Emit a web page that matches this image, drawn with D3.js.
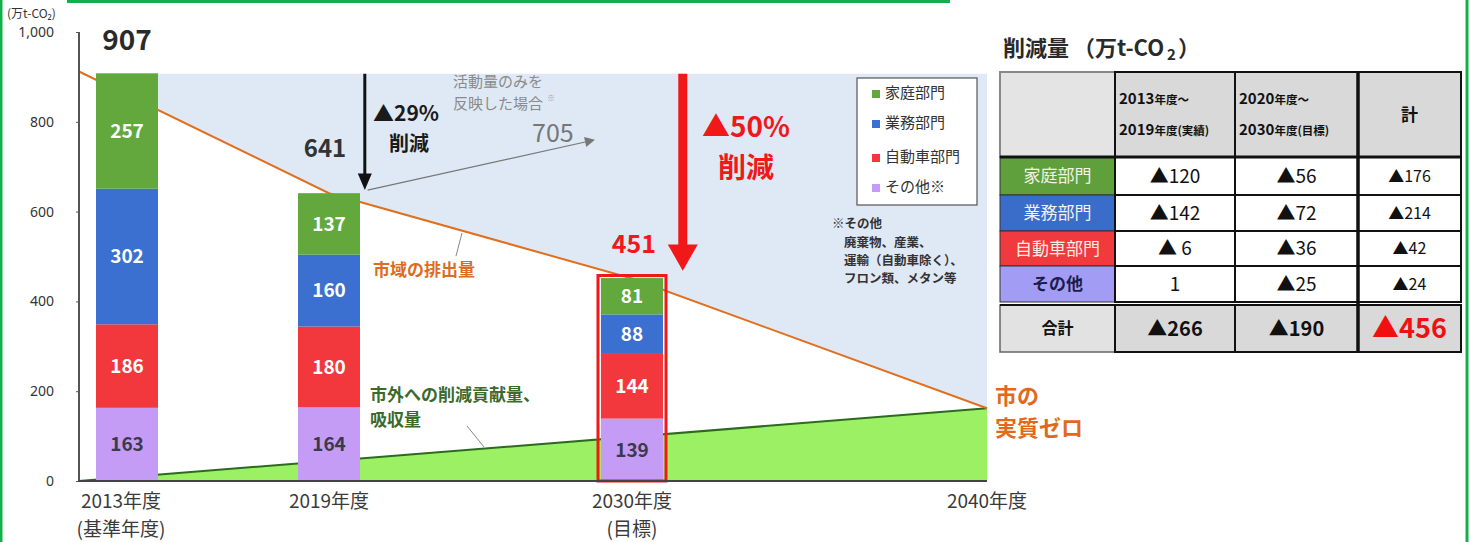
<!DOCTYPE html>
<html>
<head>
<meta charset="utf-8">
<style>
  body { margin: 0; background: #fff; }
  svg text { font-family: "Noto Sans CJK JP", "Noto Sans", sans-serif; }
</style>
<script src="https://d3js.org/d3.v7.min.js"></script>
</head>
<body>
<div id="chart"></div>
<script>
// --- data ---
var years = [2013, 2019, 2030];
var sectors = ["その他※", "自動車部門", "業務部門", "家庭部門"];   // bottom -> top
var katei   = [257, 137, 81];
var gyomu   = [302, 160, 88];
var jidosha = [186, 180, 144];
var sonota  = [163, 164, 139];
var totals  = [907, 641, 451];
var yTicks  = [0, 200, 400, 600, 800, 1000];
var xLabels = [["2013年度", "(基準年度)"], ["2019年度", ""], ["2030年度", "(目標)"], ["2040年度", ""]];
var xLabelYears = [2013, 2019, 2030, 2040];
// emission trend (市域の排出量) and offset line (市外への削減貢献量)
var emitYears = [2011.55, 2019, 2030, 2040];
var emitVals  = [912, 641, 451, 162];
var offsetYears = [2011.55, 2040];
var offsetVals  = [0, 162];
// table
var tblRows   = ["家庭部門", "業務部門", "自動車部門", "その他"];
var tblA      = ["▲120", "▲142", "▲ 6", "1"];
var tblB      = ["▲56", "▲72", "▲36", "▲25"];
var tblSum    = ["▲176", "▲214", "▲42", "▲24"];
var tblTotals = ["▲266", "▲190", "▲456"];

var colors = {"家庭部門": "#62a83d", "業務部門": "#3b6fd0", "自動車部門": "#f2383c", "その他※": "#c49cf5"};
var rowFill = ["#5f9f3c", "#3a6cc9", "#f03a3e", "#a29cf5"];
var rowText = ["#f3f3e6", "#f3f3f3", "#f7f0e6", "#1c1c4a"];

var W = 1470, H = 542;
var svg = d3.select("#chart").append("svg").attr("width", W).attr("height", H);

// scales (x is piecewise like the original slide)
var x = d3.scaleLinear().domain([2011.55, 2013, 2019, 2030, 2040]).range([79, 127, 329, 632, 987]);
var y = d3.scaleLinear().domain([0, 1000]).range([481, 32]);
var barW = 62;

// frame lines
svg.append("line").attr("x1", 1).attr("x2", 1).attr("y1", 0).attr("y2", H).attr("stroke", "#12b04c").attr("stroke-width", 3);
svg.append("line").attr("x1", 67).attr("x2", 950).attr("y1", 1.5).attr("y2", 1.5).attr("stroke", "#12b04c").attr("stroke-width", 3);
svg.append("line").attr("x1", 1467).attr("x2", 1467).attr("y1", 0).attr("y2", H).attr("stroke", "#12b04c").attr("stroke-width", 3);

// light blue area above emission line (starts at the 2013 bar)
var emitPts = emitYears.map(function(d, i) { return [x(d), y(emitVals[i])]; });
var bx0 = x(2013) - barW / 2;
var t0 = (bx0 - emitPts[0][0]) / (emitPts[1][0] - emitPts[0][0]);
var by0 = emitPts[0][1] + t0 * (emitPts[1][1] - emitPts[0][1]);
var bluePts = [[bx0, y(907)], [x(2040), y(907)]].concat(emitPts.slice(1).reverse()).concat([[bx0, by0]]);
svg.append("path").attr("d", d3.line()(bluePts) + "Z").attr("fill", "#dfe9f6");

// green offset area
var offPts = offsetYears.map(function(d, i) { return [x(d), y(offsetVals[i])]; });
svg.append("path").attr("d", d3.line()(offPts.concat([[x(2040), y(0)]])) + "Z").attr("fill", "#9cf064");
svg.append("path").attr("d", d3.line()(offPts)).attr("fill", "none").attr("stroke", "#2d6a1e").attr("stroke-width", 2);

// emission line
svg.append("path").attr("d", d3.line()(emitPts)).attr("fill", "none").attr("stroke", "#e0701f").attr("stroke-width", 2);

// stacked bars
var rows = years.map(function(yr, i) {
  return {year: yr, "家庭部門": katei[i], "業務部門": gyomu[i], "自動車部門": jidosha[i], "その他※": sonota[i]};
});
var stack = d3.stack().keys(sectors)(rows);
var layer = svg.selectAll("g.layer").data(stack).enter().append("g").attr("class", "layer");
layer.selectAll("rect").data(function(d) { return d.map(function(p) { p.key = d.key; return p; }); })
  .enter().append("rect")
  .attr("x", function(d) { return x(d.data.year) - barW / 2; })
  .attr("width", barW)
  .attr("y", function(d) { return y(d[1]); })
  .attr("height", function(d) { return y(d[0]) - y(d[1]); })
  .attr("fill", function(d) { return colors[d.key]; });
layer.selectAll("text").data(function(d) { return d; })
  .enter().append("text")
  .attr("x", function(d) { return x(d.data.year); })
  .attr("y", function(d) { return y((d[0] + d[1]) / 2); })
  .attr("dy", "0.36em").attr("text-anchor", "middle")
  .attr("font-size", 19).attr("font-weight", "bold")
  .attr("fill", function(d) { return d.key === "その他※" ? "#3a3a4a" : "#ffffff"; })
  .text(function(d) { return d[1] - d[0]; });

// red outline on 2030 bar
svg.append("rect").attr("x", x(2030) - barW / 2 - 3).attr("y", y(totals[2]) - 3)
  .attr("width", barW + 6).attr("height", y(0) - y(totals[2]) + 3)
  .attr("fill", "none").attr("stroke", "#f01818").attr("stroke-width", 3);

// axes
var yAxis = svg.append("g").attr("transform", "translate(79,0)")
  .call(d3.axisLeft(y).tickValues(yTicks).tickSize(3).tickFormat(d3.format(",")));
yAxis.select(".domain").attr("stroke", "#555").attr("stroke-width", 2).attr("d", "M0," + y(1000) + "V" + y(0));
yAxis.selectAll(".tick line").attr("stroke", "#555");
yAxis.selectAll(".tick text").attr("x", -25).attr("font-size", 14).attr("fill", "#333")
  .style("font-family", "Noto Sans, sans-serif");
svg.append("line").attr("x1", 78).attr("x2", 987).attr("y1", y(0)).attr("y2", y(0)).attr("stroke", "#444").attr("stroke-width", 2);
svg.append("text").attr("x", 7).attr("y", 18).attr("font-size", 12).attr("fill", "#333").text("(万t-CO₂)");

xLabels.forEach(function(l, i) {
  var cx = x(xLabelYears[i]) - (i === 0 ? 6 : 0);
  svg.append("text").attr("x", cx).attr("y", 508).attr("text-anchor", "middle")
    .attr("font-size", 19).attr("fill", "#3a3a3a").text(l[0]);
  if (l[1]) svg.append("text").attr("x", cx).attr("y", 536).attr("text-anchor", "middle")
    .attr("font-size", 19).attr("fill", "#3a3a3a").text(l[1]);
});

// totals above bars
svg.append("text").attr("x", x(2013)).attr("y", 50).attr("text-anchor", "middle").attr("font-size", 28).attr("font-weight", "bold").attr("fill", "#2a2a2a").text(totals[0]);
svg.append("text").attr("x", x(2019) - 4).attr("y", 157).attr("text-anchor", "middle").attr("font-size", 24).attr("font-weight", "bold").attr("fill", "#333").text(totals[1]);
svg.append("text").attr("x", x(2030) + 2).attr("y", 253).attr("text-anchor", "middle").attr("font-size", 25).attr("font-weight", "bold").attr("fill", "#f01818").text(totals[2]);

// black arrow ▲29%
var bx = x(2020.3);
svg.append("line").attr("x1", bx).attr("x2", bx).attr("y1", y(907)).attr("y2", y(675)).attr("stroke", "#111").attr("stroke-width", 3);
svg.append("path").attr("d", d3.line()([[bx - 7, y(685)], [bx + 7, y(685)], [bx, y(648)]]) + "Z").attr("fill", "#111");
svg.append("text").attr("x", 373).attr("y", 121).attr("font-size", 21).attr("font-weight", "bold").attr("fill", "#1a1a1a").text("▲29%");
svg.append("text").attr("x", 389).attr("y", 151).attr("font-size", 20).attr("font-weight", "bold").attr("fill", "#1a1a1a").text("削減");

// gray arrow (活動量のみ)
var g1 = [x(2020.4), y(648)], g2 = [x(2028.3), y(755)];
svg.append("line").attr("x1", g1[0]).attr("y1", g1[1]).attr("x2", g2[0]).attr("y2", g2[1]).attr("stroke", "#777").attr("stroke-width", 1.2);
var ang = Math.atan2(g2[1] - g1[1], g2[0] - g1[0]);
var tip = [g2[0] + 10 * Math.cos(ang), g2[1] + 10 * Math.sin(ang)];
svg.append("path").attr("d", d3.line()([tip,
  [g2[0] - 5 * Math.sin(ang), g2[1] + 5 * Math.cos(ang)],
  [g2[0] + 5 * Math.sin(ang), g2[1] - 5 * Math.cos(ang)]]) + "Z").attr("fill", "#777");
svg.append("text").attr("x", 453).attr("y", 87).attr("font-size", 15).attr("fill", "#8a8a8a").text("活動量のみを");
svg.append("text").attr("x", 453).attr("y", 109).attr("font-size", 15).attr("fill", "#8a8a8a").text("反映した場合");
svg.append("text").attr("x", 547).attr("y", 101).attr("font-size", 8).attr("fill", "#999").text("※");
svg.append("text").attr("x", 532).attr("y", 142).attr("font-size", 25).attr("fill", "#777").text("705");

// red arrow ▲50%
var rx = x(2031.43);
svg.append("line").attr("x1", rx).attr("x2", rx).attr("y1", y(907)).attr("y2", y(520)).attr("stroke", "#f01818").attr("stroke-width", 9);
svg.append("path").attr("d", d3.line()([[rx - 15, y(527)], [rx + 15, y(527)], [rx, y(468)]]) + "Z").attr("fill", "#f01818");
svg.append("text").attr("x", 746).attr("y", 137).attr("text-anchor", "middle").attr("font-size", 28).attr("font-weight", "bold").attr("fill", "#f01818").text("▲50%");
svg.append("text").attr("x", 746).attr("y", 178).attr("text-anchor", "middle").attr("font-size", 28).attr("font-weight", "bold").attr("fill", "#f01818").text("削減");

// labels on the lines
svg.append("line").attr("x1", 462).attr("y1", 233).attr("x2", 456).attr("y2", 256).attr("stroke", "#888").attr("stroke-width", 1);
svg.append("text").attr("x", 373).attr("y", 276).attr("font-size", 17).attr("font-weight", "bold").attr("fill", "#dc6c22").text("市域の排出量");
svg.append("line").attr("x1", 467).attr("y1", 426).attr("x2", 484).attr("y2", 447).attr("stroke", "#888").attr("stroke-width", 1);
svg.append("text").attr("x", 370).attr("y", 401).attr("font-size", 17).attr("font-weight", "bold").attr("fill", "#3b6a2c").text("市外への削減貢献量、");
svg.append("text").attr("x", 370).attr("y", 426).attr("font-size", 17).attr("font-weight", "bold").attr("fill", "#3b6a2c").text("吸収量");
svg.append("text").attr("x", 995).attr("y", 404).attr("font-size", 22).attr("font-weight", "bold").attr("fill", "#e2691a").text("市の");
svg.append("text").attr("x", 995).attr("y", 436).attr("font-size", 22).attr("font-weight", "bold").attr("fill", "#e2691a").text("実質ゼロ");

// legend
var leg = svg.append("g");
leg.append("rect").attr("x", 857).attr("y", 78).attr("width", 120).attr("height", 127).attr("fill", "#fff").attr("stroke", "#555").attr("stroke-width", 1.2);
var legOrder = ["家庭部門", "業務部門", "自動車部門", "その他※"];
var legY = [93, 123, 157, 187];
legOrder.forEach(function(k, i) {
  leg.append("rect").attr("x", 872).attr("y", legY[i] - 3).attr("width", 8).attr("height", 8).attr("fill", colors[k]);
  leg.append("text").attr("x", 885).attr("y", legY[i]).attr("dy", "0.36em").attr("font-size", 15).attr("fill", "#333").text(k);
});

// footnote
var notes = ["※その他", "廃棄物、産業、", "運輸（自動車除く）、", "フロン類、メタン等"];
notes.forEach(function(t, i) {
  svg.append("text").attr("x", i === 0 ? 832 : 844).attr("y", [228, 247, 265, 283][i]).attr("font-size", 12.5)
    .attr("font-weight", "bold").attr("fill", "#333").text(t);
});

// ---- table ----
var tx = [1000, 1115, 1235, 1358, 1461];
var ty = [72, 157, 195, 231, 266, 302, 305, 352];
var tt = svg.append("g");
var title = tt.append("text").attr("x", 1003).attr("y", 56).attr("font-size", 22).attr("font-weight", "bold").attr("fill", "#2a2a2a");
title.append("tspan").text("削減量");
title.append("tspan").attr("dx", 4).text("（万t-CO");
title.append("tspan").attr("font-size", 15).attr("dx", 3).attr("dy", 4).text("2");
title.append("tspan").attr("dy", -4).attr("dx", 2).text("）");

// header
for (var c = 0; c < 4; c++) {
  tt.append("rect").attr("x", tx[c]).attr("y", ty[0]).attr("width", tx[c + 1] - tx[c]).attr("height", ty[1] - ty[0])
    .attr("fill", c === 0 ? "#e4e4e4" : "#d9d9d9").attr("stroke", c === 0 ? "#888" : "#111").attr("stroke-width", 2);
}
var hdr = [["2013", "年度～"], ["2019", "年度(実績)"], ["2020", "年度～"], ["2030", "年度(目標)"]];
[0, 1].forEach(function(c) {
  [0, 1].forEach(function(r) {
    var h = hdr[c * 2 + r];
    var t = tt.append("text").attr("x", tx[c + 1] + 4).attr("y", 104 + r * 31).attr("font-weight", "bold").attr("fill", "#111");
    t.append("tspan").attr("font-size", 15).text(h[0]);
    t.append("tspan").attr("font-size", 11.5).text(h[1]);
  });
});
tt.append("text").attr("x", (tx[3] + tx[4]) / 2).attr("y", 115).attr("dy", "0.36em").attr("text-anchor", "middle")
  .attr("font-size", 17).attr("font-weight", "bold").attr("fill", "#111").text("計");

// body rows
tblRows.forEach(function(name, r) {
  var y0 = ty[r + 1], y1 = ty[r + 2], cy = (y0 + y1) / 2;
  tt.append("rect").attr("x", tx[0]).attr("y", y0).attr("width", tx[1] - tx[0]).attr("height", y1 - y0)
    .attr("fill", rowFill[r]).attr("stroke", "#333").attr("stroke-width", 1);
  tt.append("text").attr("x", (tx[0] + tx[1]) / 2).attr("y", cy).attr("dy", "0.36em").attr("text-anchor", "middle")
    .attr("font-size", 17).attr("font-weight", r === 3 ? "bold" : "normal").attr("fill", rowText[r]).text(name);
  [tblA[r], tblB[r], tblSum[r]].forEach(function(v, c) {
    tt.append("rect").attr("x", tx[c + 1]).attr("y", y0).attr("width", tx[c + 2] - tx[c + 1]).attr("height", y1 - y0)
      .attr("fill", "#fff").attr("stroke", "#111").attr("stroke-width", 2);
    tt.append("text").attr("x", (tx[c + 1] + tx[c + 2]) / 2).attr("y", cy).attr("dy", "0.36em").attr("text-anchor", "middle")
      .attr("font-size", c === 2 ? 16 : 19).attr("fill", "#111").text(v);
  });
});

// total row
tt.append("rect").attr("x", tx[0]).attr("y", ty[6]).attr("width", tx[1] - tx[0]).attr("height", ty[7] - ty[6])
  .attr("fill", "#e2e2e2").attr("stroke", "#666").attr("stroke-width", 1.5);
tt.append("text").attr("x", (tx[0] + tx[1]) / 2).attr("y", (ty[6] + ty[7]) / 2).attr("dy", "0.36em").attr("text-anchor", "middle")
  .attr("font-size", 16).attr("font-weight", "bold").attr("fill", "#111").text("合計");
tblTotals.forEach(function(v, c) {
  tt.append("rect").attr("x", tx[c + 1]).attr("y", ty[6]).attr("width", tx[c + 2] - tx[c + 1]).attr("height", ty[7] - ty[6])
    .attr("fill", "#d9d9d9").attr("stroke", "#111").attr("stroke-width", 2);
  tt.append("text").attr("x", (tx[c + 1] + tx[c + 2]) / 2).attr("y", (ty[6] + ty[7]) / 2).attr("dy", "0.36em").attr("text-anchor", "middle")
    .attr("font-size", c === 2 ? 27 : 20).attr("font-weight", "bold").attr("fill", c === 2 ? "#f01010" : "#111").text(v);
});
// thick separators like the original
tt.append("line").attr("x1", tx[0]).attr("x2", tx[4]).attr("y1", ty[1]).attr("y2", ty[1]).attr("stroke", "#111").attr("stroke-width", 3);
tt.append("line").attr("x1", tx[3]).attr("x2", tx[3]).attr("y1", ty[0]).attr("y2", ty[7]).attr("stroke", "#111").attr("stroke-width", 3.5);
tt.append("line").attr("x1", tx[0]).attr("x2", tx[4]).attr("y1", ty[6]).attr("y2", ty[6]).attr("stroke", "#111").attr("stroke-width", 2);
</script>
</body>
</html>
